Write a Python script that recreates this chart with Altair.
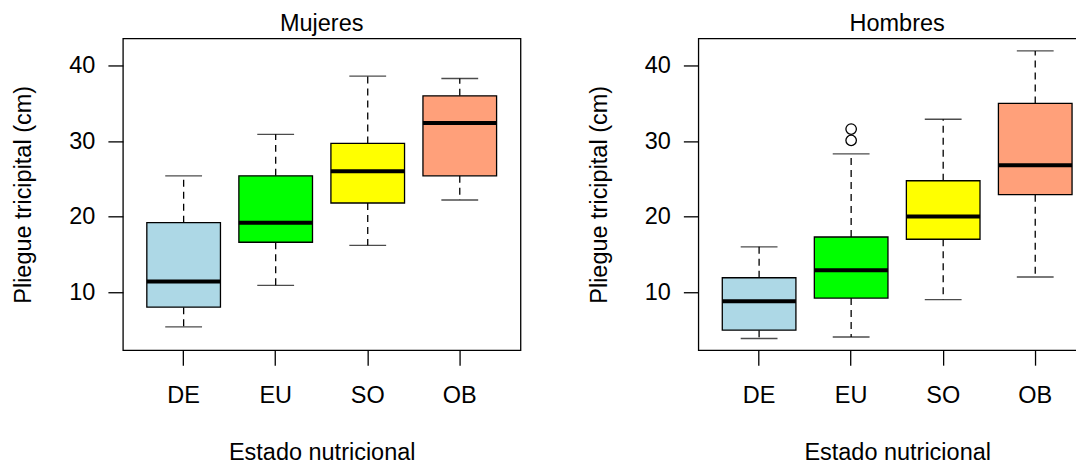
import altair as alt
import pandas as pd

# ---------------- data ----------------
categories = ["DE", "EU", "SO", "OB"]
fill_colors = ["#ADD8E6", "#00FF00", "#FFFF00", "#FFA07A"]

# Mujeres
muj_min = [5.4, 10.9, 16.2, 22.2]
muj_q1 = [8.0, 16.6, 21.8, 25.4]
muj_med = [11.4, 19.2, 26.0, 32.4]
muj_q3 = [19.2, 25.4, 29.7, 36.0]
muj_max = [25.4, 30.9, 38.6, 38.3]
muj_out_cat = []
muj_out_val = []

# Hombres
hom_min = [3.85, 4.05, 9.0, 12.0]
hom_q1 = [4.95, 9.2, 17.0, 22.9]
hom_med = [8.8, 12.9, 20.0, 26.8]
hom_q3 = [11.9, 17.3, 24.75, 35.0]
hom_max = [16.0, 28.3, 32.9, 41.95]
hom_out_cat = ["EU", "EU"]
hom_out_val = [31.6, 30.1]

y_ticks = [10, 20, 30, 40]
y_domain = [2.3, 43.6]

# ---------------- style ----------------
FONT = "Liberation Sans"
FS = 23.5
W, H = 398, 312
P_IN, P_OUT = 0.2, 0.26
STEP = W / (4 - P_IN + 2 * P_OUT)
LW = 1.3


def panel(title, mn, q1, med, q3, mx, out_cat, out_val):
    df = pd.DataFrame({"cat": categories, "min": mn, "q1": q1, "med": med,
                       "q3": q3, "max": mx})
    odf = pd.DataFrame({"cat": out_cat, "val": out_val})
    tdf = pd.DataFrame({"t": [title]})

    xaxis = alt.Axis(title="Estado nutricional", labelAngle=0, labelFont=FONT,
                     labelFontSize=FS, labelColor="black", labelPadding=18.5,
                     tickSize=15, tickWidth=LW, tickColor="black", domain=False,
                     grid=False, titleFont=FONT, titleFontSize=FS,
                     titleFontWeight="normal", titleColor="black",
                     titleBaseline="alphabetic", titleY=109.6, titleX=W / 2)
    yaxis = alt.Axis(title="Pliegue tricipital (cm)", values=y_ticks,
                     labelFont=FONT, labelFontSize=FS, labelColor="black",
                     labelPadding=13, tickSize=15, tickWidth=LW,
                     tickColor="black", domain=False, grid=False,
                     titleFont=FONT, titleFontSize=FS, titleFontWeight="normal",
                     titleColor="black", titleBaseline="alphabetic",
                     titleX=-92.3, titleY=H / 2, titleAngle=270)
    xs = alt.Scale(domain=categories, paddingInner=P_IN, paddingOuter=P_OUT)
    ys = alt.Scale(domain=y_domain, nice=False, zero=False)

    X = alt.X("cat:N", scale=xs, axis=xaxis, sort=categories)

    base = alt.Chart(df)
    up = base.mark_rule(color="black", strokeWidth=LW, strokeDash=[7, 5]).encode(
        x=X, y=alt.Y("q3:Q", scale=ys, axis=yaxis), y2="max:Q")
    lo = base.mark_rule(color="black", strokeWidth=LW, strokeDash=[7, 5]).encode(
        x=X, y=alt.Y("q1:Q", scale=ys, axis=yaxis), y2="min:Q")
    cap_hi = base.mark_tick(color="black", size=STEP * 0.4, thickness=LW).encode(
        x=X, y=alt.Y("max:Q", scale=ys, axis=yaxis))
    cap_lo = base.mark_tick(color="black", size=STEP * 0.4, thickness=LW).encode(
        x=X, y=alt.Y("min:Q", scale=ys, axis=yaxis))
    box = base.mark_bar(stroke="black", strokeWidth=LW, opacity=1).encode(
        x=X, y=alt.Y("q1:Q", scale=ys, axis=yaxis), y2="q3:Q",
        color=alt.Color("cat:N", scale=alt.Scale(domain=categories,
                                                 range=fill_colors),
                        legend=None))
    med_t = base.mark_tick(color="black", size=STEP * 0.8, thickness=4,
                           opacity=1).encode(
        x=X, y=alt.Y("med:Q", scale=ys, axis=yaxis))
    ttl = alt.Chart(tdf).mark_text(font=FONT, fontSize=FS, color="black",
                                   baseline="alphabetic", align="center").encode(
        text="t:N", x=alt.value(W / 2), y=alt.value(-7.5))
    layers = [up, lo, cap_hi, cap_lo, box, med_t]
    if len(out_val):
        pts = alt.Chart(odf).mark_point(shape="circle", filled=False,
                                        color="black", strokeWidth=LW,
                                        size=110, opacity=1).encode(
            x=X, y=alt.Y("val:Q", scale=ys, axis=yaxis))
        layers.append(pts)
    layers.append(ttl)
    return alt.layer(*layers).properties(width=W, height=H)


left = panel("Mujeres", muj_min, muj_q1, muj_med, muj_q3, muj_max,
             muj_out_cat, muj_out_val)
right = panel("Hombres", hom_min, hom_q1, hom_med, hom_q3, hom_max,
              hom_out_cat, hom_out_val)

# the reference's right panel runs past the picture edge: a negative right
# padding lets the svg clip it there, as the reference does
chart = alt.hconcat(left, right, spacing=178, bounds="flush").properties(
    padding={"left": 3, "top": 2.3, "right": -21, "bottom": 0},
    background="white",
).configure_view(stroke="black", strokeWidth=LW)

chart.save("out.html", embed_options={"renderer": "svg", "actions": False})
